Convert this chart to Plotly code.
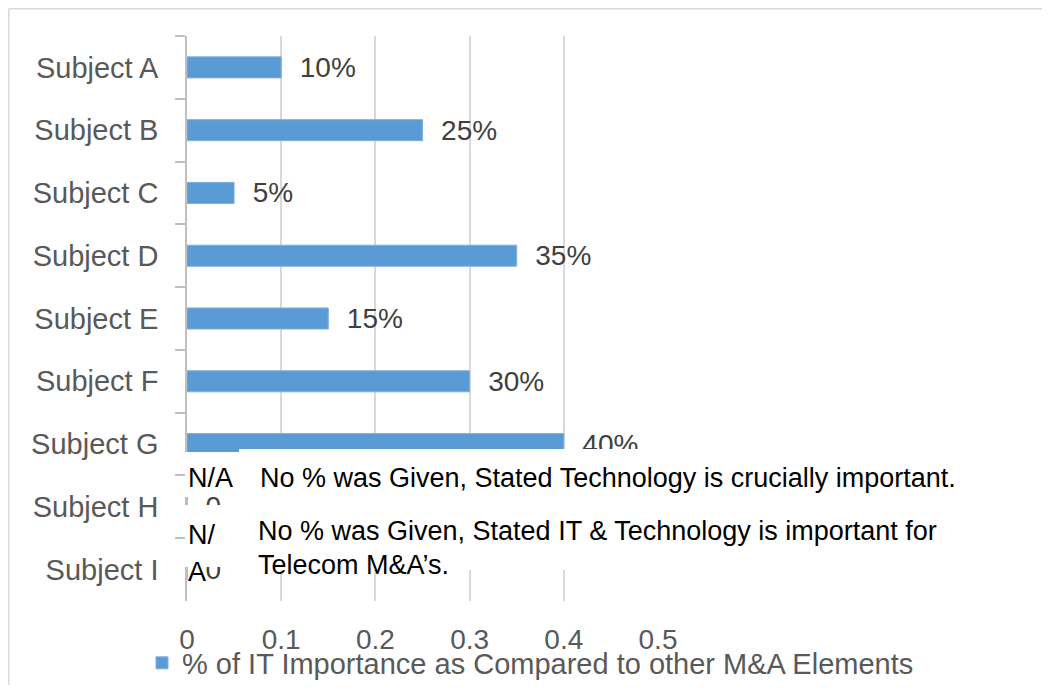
import plotly.graph_objects as go

categories = ["Subject A", "Subject B", "Subject C", "Subject D", "Subject E",
              "Subject F", "Subject G", "Subject H", "Subject I"]
values = [0.10, 0.25, 0.05, 0.35, 0.15, 0.30, 0.40, 0, 0]
value_labels = ["10%", "25%", "5%", "35%", "15%", "30%", "40%", "0", "0"]
series_name = "% of IT Importance as Compared to other M&A Elements"
x_ticks = [0, 0.1, 0.2, 0.3, 0.4, 0.5]
x_tick_labels = ["0", "0.1", "0.2", "0.3", "0.4", "0.5"]
note_rows = [
    ("N/A", "No % was Given, Stated Technology is crucially important."),
    ("N/", "No % was Given, Stated IT & Technology is important for"),
    ("A", "Telecom M&A\u2019s."),
]

# page has an 8px body margin; figure is sized so the whole page fits the
# window and the plot area lands at screen x 187..658, y 36..601
OFF = 8
W, H = 1034, 677
PLOT_L, PLOT_T, PW, PH = 187, 36, 471, 565
L = PLOT_L - OFF
T = PLOT_T - OFF
R = W - L - PW
B = H - T - PH


def px(x):
    return (x - PLOT_L) / PW


def py(y):
    return (PLOT_T + PH - y) / PH


FONT = "Liberation Sans"

fig = go.Figure()
fig.add_trace(go.Bar(
    y=categories, x=values, orientation="h",
    name=series_name,
    marker=dict(color="#5B9BD5", line=dict(color="#7FB0DE", width=1)),
    text=value_labels,
    texttemplate="\u00a0\u00a0%{text}",
    textposition="outside",
    constraintext="none",
    cliponaxis=False,
    textfont=dict(family=FONT, size=28, color="#404040"),
))

shapes = [
    # outer chart border (top and left edges only are visible)
    dict(type="line", xref="paper", yref="paper", x0=px(8.8), x1=px(1050),
         y0=py(8.8), y1=py(8.8), line=dict(color="#D9D9D9", width=1.5), layer="below"),
    dict(type="line", xref="paper", yref="paper", x0=px(8.8), x1=px(8.8),
         y0=py(8.8), y1=py(700), line=dict(color="#D9D9D9", width=1.5), layer="below"),
    # white note boxes over the chart
    dict(type="rect", xref="paper", yref="paper", x0=px(239), x1=px(1040),
         y0=py(570), y1=py(449), line=dict(width=0), fillcolor="white", layer="above"),
    dict(type="rect", xref="paper", yref="paper", x0=px(185), x1=px(239),
         y0=py(497), y1=py(452), line=dict(width=0), fillcolor="white", layer="above"),
    dict(type="rect", xref="paper", yref="paper", x0=px(185), x1=px(239),
         y0=py(567), y1=py(505), line=dict(width=0), fillcolor="white", layer="above"),
]

ann = []
note_font = dict(family=FONT, size=27, color="#000000")
positions = [
    (186, 478, note_rows[0][0]), (258, 478, note_rows[0][1]),
    (186, 535, note_rows[1][0]), (256, 531, note_rows[1][1]),
    (186, 572, note_rows[2][0]), (256, 565, note_rows[2][1]),
]
for xx, yy, txt in positions:
    ann.append(dict(xref="paper", yref="paper", x=px(xx), y=py(yy), text=txt,
                    showarrow=False, xanchor="left", yanchor="middle", font=note_font))

fig.update_layout(
    width=W, height=H,
    margin=dict(l=L, r=R, t=T, b=B, pad=0, autoexpand=False),
    paper_bgcolor="white", plot_bgcolor="white",
    bargap=0.665,
    showlegend=True,
    legend=dict(orientation="h", x=px(142), y=py(663), xanchor="left", yanchor="middle",
                font=dict(family=FONT, size=29, color="#595959"),
                bgcolor="rgba(0,0,0,0)"),
    xaxis=dict(range=[0, 0.5], tickvals=x_ticks, ticktext=x_tick_labels,
               showgrid=True, gridcolor="#D9D9D9", gridwidth=1.5, zeroline=False,
               showline=False, ticks="", ticklabelstandoff=19, automargin=False,
               tickfont=dict(family=FONT, size=28, color="#595959")),
    yaxis=dict(type="category", autorange="reversed", showgrid=False,
               showline=True, linecolor="#BFBFBF", linewidth=1.5, automargin=False,
               ticks="outside", tickson="boundaries", ticklen=10, tickcolor="#BFBFBF",
               tickwidth=1.5, ticklabelstandoff=21,
               tickfont=dict(family=FONT, size=29, color="#595959")),
    shapes=shapes,
    annotations=ann,
)

fig.write_html("out.html")
